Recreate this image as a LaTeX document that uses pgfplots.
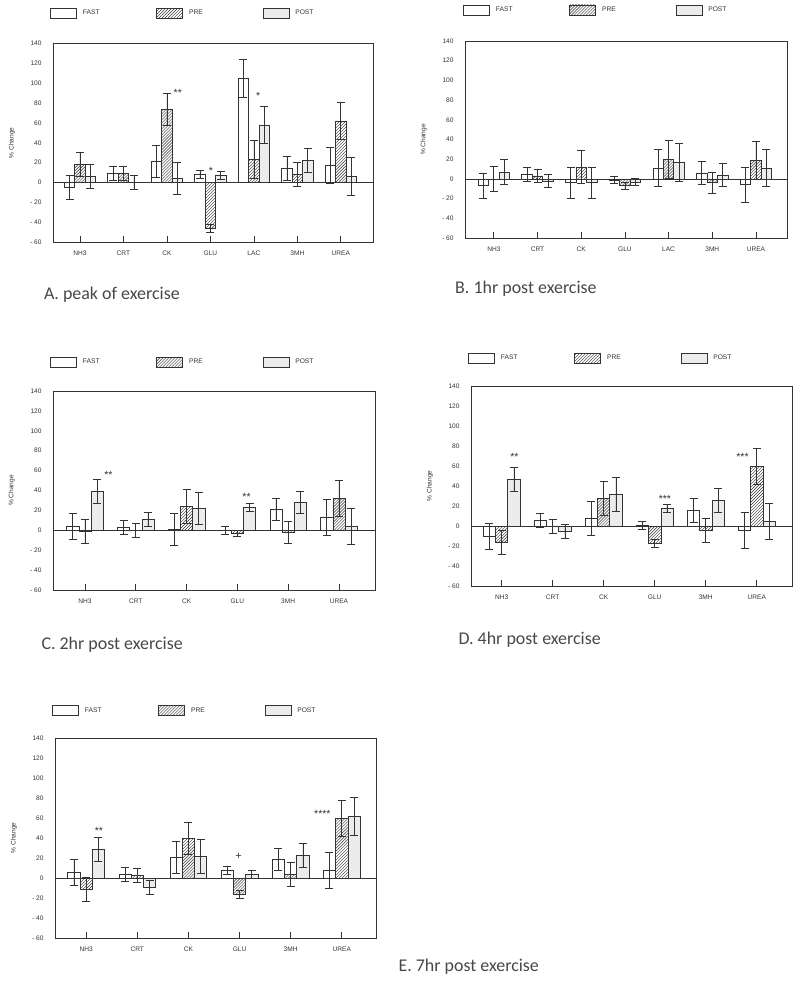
\documentclass[border=0pt]{standalone}
\usepackage{pgfplots}
\pgfplotsset{compat=1.18}
\usepackage{pgfplotstable}
\usepackage{fontspec}
\setmainfont{Liberation Sans}
\newfontfamily\capfont{Carlito}
\usetikzlibrary{patterns}

\definecolor{ink}{HTML}{333333}
\definecolor{postfill}{HTML}{ECECEC}

% x fast fe pre pe post poe
\pgfplotstableread{
x fast fe pre pe post poe
0 -5 12 18 12 6 12
1 9 7 9 7 0 7
2 21 16 74 16 4 16
3 8 4 -46 4 7 4
4 105 19 23 19 58 19
5 14 12 8 12 22 12
6 17 18 62 19 6 19
}\dataA
\pgfplotstableread{
x fast fe pre pe post poe
0 -7 13 0 12.5 7 13
1 5 7 3 7 -2 7
2 -4 16 12 17 -4 16
3 -1 4 -7 4 -3 4
4 11 19 20 19 17 19
5 6 12 -4 11 4 12
6 -6 18 19 19 11 19
}\dataB
\pgfplotstableread{
x fast fe pre pe post poe
0 4 13 -1 12 39 12
1 3 7 0 7 11 7
2 1 16 24 17 22 16
3 0 4 -3 3 23 4
4 21 11 -2 11 28 11
5 13 18 32 18 4 18
}\dataC
\pgfplotstableread{
x fast fe pre pe post poe
0 -10 13 -16 12 47 12
1 6 7 0 7 -5 7
2 8 17 28 17 32 17
3 1 4 -17 4 18 4
4 16 12 -4 12 26 12
5 -4 18 60 18 5 18
}\dataD
\pgfplotstableread{
x fast fe pre pe post poe
0 6 13 -11 12 29 12
1 4 7 3 7 -9 7
2 21 16 40 16 22 17
3 8 4 -16 4 4 4
4 19 11 4 12 23 12
5 8 18 60 18 62 19
}\dataE

\tikzset{ast/.style={font=\fontsize{10.5}{11}\selectfont, text=ink, inner sep=0pt}}

\pgfplotsset{
  panel/.style={
    scale only axis,
    ybar=0pt, bar width=0.24,
    ymin=-60, ymax=140,
    ytick={-60,-40,...,140},
    yticklabels={- 60,- 40,- 20,0,20,40,60,80,100,120,140},
    ytick style={draw=none},
    xtick pos=left, xtick align=inside,
    major tick length=6bp,
    tick style={ink, line width=0.7bp},
    axis line style={ink, line width=0.7bp},
    every tick label/.append style={font=\fontsize{6.6}{7}\selectfont, text=ink},
    yticklabel style={xshift=-8bp},
    xticklabel style={yshift=-5bp},
    ylabel={\% Change},
    ylabel style={at={(axis description cs:-0.128,0.5)}, anchor=center, font=\fontsize{6.6}{7}\selectfont, text=ink},
    legend columns=3,
    legend style={draw=none, fill=none, inner sep=0pt, column sep=0pt,
      font=\fontsize{6.7}{7}\selectfont, text=ink,
      at={(axis description cs:0,1)}, anchor=west, yshift=30.5bp, xshift=-3bp,
      nodes={inner sep=2bp}},
    legend image code/.code={\draw[##1] (0bp,-5bp) rectangle (26bp,5bp);},
  },
  fastbar/.style={draw=ink, fill=white, line width=0.7bp},
  prebar/.style={draw=ink, fill=white, line width=0.7bp, postaction={pattern=north east lines, pattern color=ink}},
  postbar/.style={draw=ink, fill=postfill, line width=0.7bp},
  eb/.style={error bars/.cd, y dir=both, y explicit,
    error bar style={ink, line width=0.7bp},
    error mark options={rotate=90, ink, line width=0.7bp, mark size=4bp}},
}

\newcommand{\legendentries}{%
  \addlegendentry{\makebox[75.5bp][l]{\hspace{4bp}FAST}}%
  \addlegendentry{\makebox[75.5bp][l]{\hspace{4bp}PRE}}%
  \addlegendentry{\makebox[75.5bp][l]{\hspace{4bp}POST}}%
}

\begin{document}
\begin{tikzpicture}
\useasboundingbox (0,0) rectangle (800bp,-981bp);

% ---------- A ----------
\begin{axis}[panel, at={(53bp,-242bp)}, anchor=south west, width=320bp, height=198.5bp,
  xmin=-0.62, xmax=6.74, xtick={0,...,6},
  xticklabels={NH3,CRT,CK,GLU,LAC,3MH,UREA}]
\addplot[fastbar, eb] table[x=x, y=fast, y error=fe] {\dataA};
\addplot[prebar, eb] table[x=x, y=pre, y error=pe] {\dataA};
\addplot[postbar, eb] table[x=x, y=post, y error=poe] {\dataA};
\legendentries
\draw[ink, line width=0.7bp] (axis cs:-0.62,0) -- (axis cs:6.74,0);
\node[ast] at (axis cs:2.25,90) {**};
\node[ast] at (axis cs:3.01,12) {*};
\node[ast] at (axis cs:4.10,87) {*};
\end{axis}

% ---------- B ----------
\begin{axis}[panel, at={(465bp,-238bp)}, anchor=south west, width=322bp, height=197bp,
  xmin=-0.66, xmax=6.71, xtick={0,...,6},
  xticklabels={NH3,CRT,CK,GLU,LAC,3MH,UREA},
  legend style={xshift=1bp, yshift=0.5bp}]
\addplot[fastbar, eb] table[x=x, y=fast, y error=fe] {\dataB};
\addplot[prebar, eb] table[x=x, y=pre, y error=pe] {\dataB};
\addplot[postbar, eb] table[x=x, y=post, y error=poe] {\dataB};
\legendentries
\draw[ink, line width=0.7bp] (axis cs:-0.66,0) -- (axis cs:6.71,0);
\end{axis}

% ---------- C ----------
\begin{axis}[panel, at={(53bp,-590bp)}, anchor=south west, width=322bp, height=199bp,
  xmin=-0.63, xmax=5.71, xtick={0,...,5},
  xticklabels={NH3,CRT,CK,GLU,3MH,UREA},
  legend style={yshift=-1.5bp}]
\addplot[fastbar, eb] table[x=x, y=fast, y error=fe] {\dataC};
\addplot[prebar, eb] table[x=x, y=pre, y error=pe] {\dataC};
\addplot[postbar, eb] table[x=x, y=post, y error=poe] {\dataC};
\legendentries
\draw[ink, line width=0.7bp] (axis cs:-0.63,0) -- (axis cs:5.71,0);
\node[ast] at (axis cs:0.46,56) {**};
\node[ast] at (axis cs:3.18,34) {**};
\end{axis}

% ---------- D ----------
\begin{axis}[panel, at={(471bp,-586bp)}, anchor=south west, width=321bp, height=200bp,
  xmin=-0.6, xmax=5.69, xtick={0,...,5},
  xticklabels={NH3,CRT,CK,GLU,3MH,UREA},
  legend style={yshift=-2.5bp}]
\addplot[fastbar, eb] table[x=x, y=fast, y error=fe] {\dataD};
\addplot[prebar, eb] table[x=x, y=pre, y error=pe] {\dataD};
\addplot[postbar, eb] table[x=x, y=post, y error=poe] {\dataD};
\legendentries
\draw[ink, line width=0.7bp] (axis cs:-0.6,0) -- (axis cs:5.69,0);
\node[ast] at (axis cs:0.25,69) {**};
\node[ast] at (axis cs:3.20,27) {***};
\node[ast] at (axis cs:4.72,69) {***};
\end{axis}

% ---------- E ----------
\begin{axis}[panel, at={(55bp,-938bp)}, anchor=south west, width=321bp, height=200bp,
  xmin=-0.61, xmax=5.67, xtick={0,...,5},
  xticklabels={NH3,CRT,CK,GLU,3MH,UREA},
  legend style={yshift=-3bp}]
\addplot[fastbar, eb] table[x=x, y=fast, y error=fe] {\dataE};
\addplot[prebar, eb] table[x=x, y=pre, y error=pe] {\dataE};
\addplot[postbar, eb] table[x=x, y=post, y error=poe] {\dataE};
\legendentries
\draw[ink, line width=0.7bp] (axis cs:-0.61,0) -- (axis cs:5.67,0);
\node[ast] at (axis cs:0.25,47) {**};
\node[font=\fontsize{11}{11}\selectfont, text=ink] at (axis cs:2.98,22) {+};
\node[ast] at (axis cs:4.62,64) {****};
\end{axis}

% ---------- captions ----------
\begin{scope}[every node/.style={anchor=base west, font=\capfont\fontsize{18}{20}\selectfont, text=black!72}]
\node at (40.5bp,-299.3bp) {A. peak of exercise};
\node at (451.7bp,-293.3bp) {B. 1hr post exercise};
\node at (38bp,-649bp) {C. 2hr post exercise};
\node at (455bp,-644bp) {D. 4hr post exercise};
\node at (395bp,-971bp) {E. 7hr post exercise};
\end{scope}
\end{tikzpicture}
\end{document}
